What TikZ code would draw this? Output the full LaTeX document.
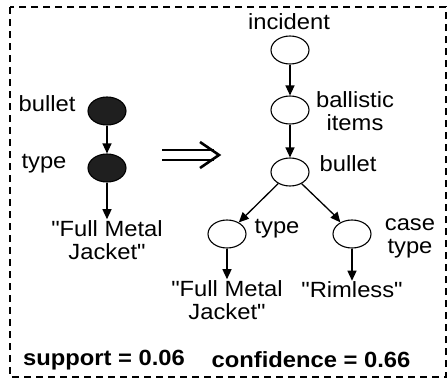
\documentclass[tikz,border=0pt]{standalone}
\usepackage{fontspec}
\setmainfont{Liberation Sans}[FakeStretch=1.08,Ligatures=TeXOff]
\usetikzlibrary{shapes.geometric,arrows.meta}
\begin{document}
\begin{tikzpicture}[x=1pt,y=-1pt,
  every node/.style={font=\fontsize{22}{23}\selectfont},
  vert/.style={ellipse,draw,line width=1.1pt,fill=white,minimum width=38pt,minimum height=28pt,inner sep=0pt},
  solid vert/.style={vert,fill=black!88},
  lbl/.style={align=center,inner sep=1pt},
  link/.style={line width=1.3pt,-{Triangle[length=10pt,width=9pt]}},
  frame/.style={line width=1.3pt,dash pattern=on 7pt off 5pt}]
\useasboundingbox (0,0) rectangle (448,381);
\draw[frame] (10,7) rectangle (446,377);

% left pattern
\node[solid vert] (lb) at (107,111) {};
\node[solid vert] (lt) at (107,168) {};
\node[lbl] (lbT) at (47,104) {bullet};
\node[lbl] (ltT) at (44,164) {type};
\node[lbl] (lfmj) at (107,240) {"Full Metal\\Jacket"};
\draw[link] (lb) -- (lt);
\draw[link] (lt) -- (lfmj);

% implication sign
\coordinate (imp) at (190,155);
\draw[line width=2.6pt] ([xshift=-28pt,yshift=-5pt]imp) -- ([xshift=24pt,yshift=-5pt]imp)
  ([xshift=-28pt,yshift=5pt]imp) -- ([xshift=24pt,yshift=5pt]imp);
\draw[line width=2.6pt,line join=miter] ([xshift=10pt,yshift=-13pt]imp) -- ([xshift=29pt]imp) -- ([xshift=10pt,yshift=13pt]imp);

% right tree
\node[vert] (r1) at (290,50) {};
\node[vert] (r2) at (290,110) {};
\node[vert] (r3) at (290,172) {};
\node[vert] (r4) at (227,234) {};
\node[vert] (r5) at (352,234) {};
\node[lbl] (r1T) at (289,22) {incident};
\node[lbl] (r2T) at (355,111) {ballistic\\items};
\node[lbl] (r3T) at (348,164) {bullet};
\node[lbl] (r4T) at (277,229) {type};
\node[lbl] (r5T) at (410,238) {case\\type};
\node[lbl] (rfmj) at (227,300) {"Full Metal\\Jacket"};
\node[lbl] (rrim) at (352,290) {"Rimless"};
\draw[link] (r1) -- (r2);
\draw[link] (r2) -- (r3);
\draw[link] (r3) -- (r4);
\draw[link] (r3) -- (r5);
\draw[link] (r4) -- (r4 |- rfmj.north);
\draw[link] (r5) -- (rrim);

% measures
\node[lbl,font=\fontsize{22}{23}\selectfont\bfseries] (sup) at (104,360) {support = 0.06};
\node[lbl,font=\fontsize{22}{23}\selectfont\bfseries] (conf) at (311,360) {confidence = 0.66};
\end{tikzpicture}
\end{document}
